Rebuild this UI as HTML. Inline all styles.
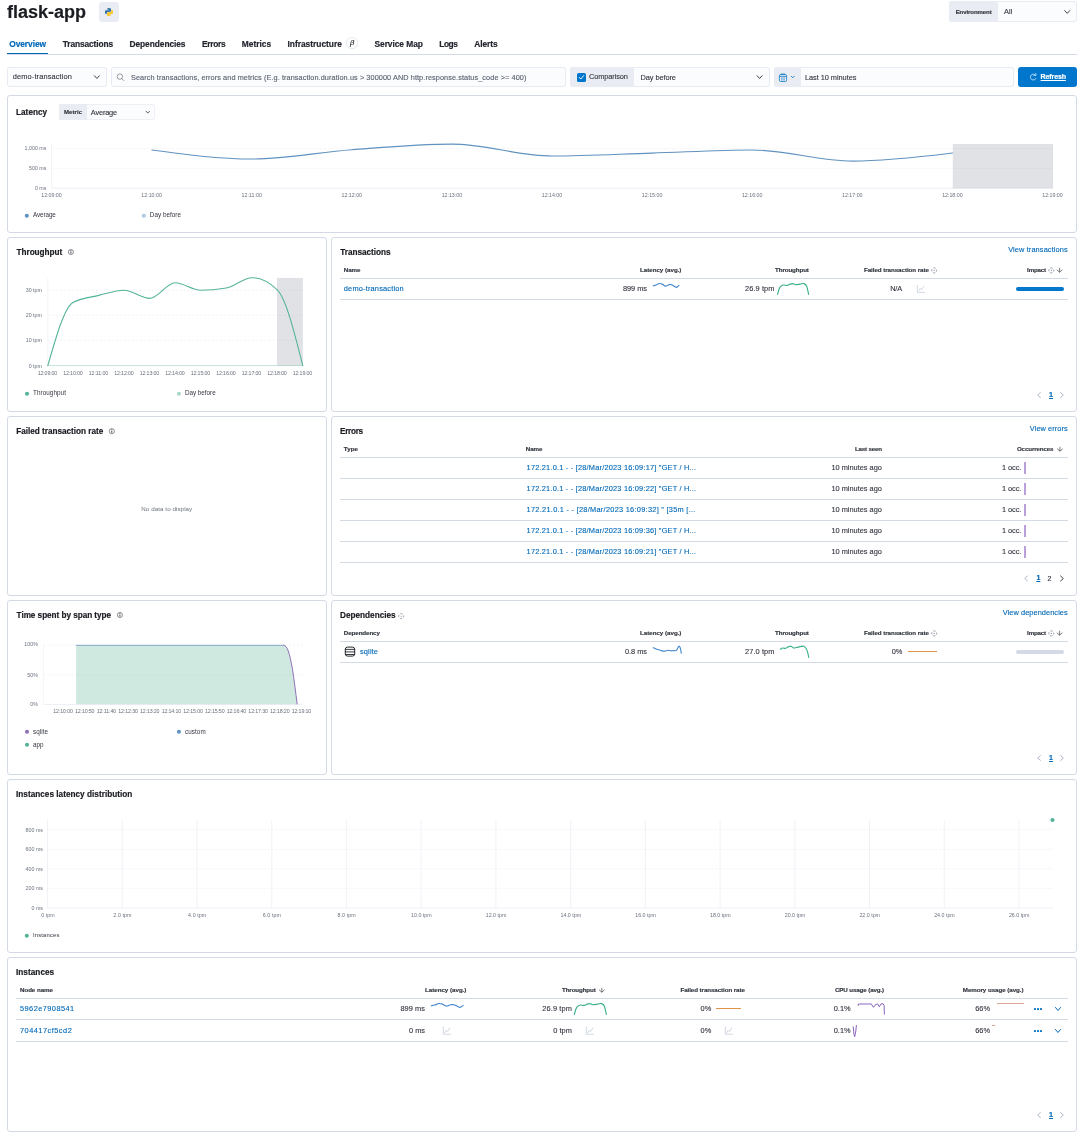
<!DOCTYPE html>
<html lang="en"><head><meta charset="utf-8"><title>flask-app - APM</title><style>
html,body{margin:0;padding:0;background:#fff;}
body{width:1080px;height:1141px;position:relative;overflow:hidden;font-family:"Liberation Sans",sans-serif;}
.t{position:absolute;white-space:nowrap;line-height:1;}
#root{position:absolute;left:0;top:0;width:1080px;height:1141px;will-change:transform;}
.b{position:absolute;}
svg.ov{position:absolute;left:0;top:0;}
</style></head><body>
<div id="root">
<div class="t" style="left:7.00px;top:3.00px;font-size:18.00px;color:#1a1c21;font-weight:700;-webkit-text-stroke:0.18px #1a1c21;letter-spacing:-0.003px;">flask-app</div>
<div class="b" style="left:99.00px;top:2.00px;width:20.00px;height:20.00px;background:#e9edf3;border-radius:3px;"></div>
<div class="b" style="left:949.00px;top:1.20px;width:128.00px;height:20.80px;background:#fbfcfd;border-radius:3px;box-shadow:inset 0 0 0 1px rgba(17,43,134,0.08);"></div>
<div class="b" style="left:949.00px;top:1.20px;width:49.00px;height:20.80px;background:#e9edf3;border-radius:3px 0 0 3px;"></div>
<div class="t" style="left:955.70px;top:9.00px;font-size:6.00px;color:#343741;font-weight:700;-webkit-text-stroke:0.18px #343741;letter-spacing:-0.067px;">Environment</div>
<div class="t" style="left:1004.00px;top:8.00px;font-size:7.40px;color:#343741;letter-spacing:0.138px;-webkit-text-stroke:0.12px #343741;">All</div>
<div class="t" style="left:9.20px;top:40.00px;font-size:8.40px;color:#0069b8;font-weight:700;-webkit-text-stroke:0.18px #0069b8;letter-spacing:-0.051px;">Overview</div>
<div class="t" style="left:62.80px;top:40.00px;font-size:8.40px;color:#23262d;font-weight:700;-webkit-text-stroke:0.18px #23262d;letter-spacing:-0.120px;">Transactions</div>
<div class="t" style="left:129.50px;top:40.00px;font-size:8.40px;color:#23262d;font-weight:700;-webkit-text-stroke:0.18px #23262d;letter-spacing:-0.069px;">Dependencies</div>
<div class="t" style="left:202.00px;top:40.00px;font-size:8.40px;color:#23262d;font-weight:700;-webkit-text-stroke:0.18px #23262d;letter-spacing:-0.282px;">Errors</div>
<div class="t" style="left:241.80px;top:40.00px;font-size:8.40px;color:#23262d;font-weight:700;-webkit-text-stroke:0.18px #23262d;letter-spacing:-0.002px;">Metrics</div>
<div class="t" style="left:287.50px;top:40.00px;font-size:8.40px;color:#23262d;font-weight:700;-webkit-text-stroke:0.18px #23262d;letter-spacing:-0.009px;">Infrastructure</div>
<div class="t" style="left:374.50px;top:40.00px;font-size:8.40px;color:#23262d;font-weight:700;-webkit-text-stroke:0.18px #23262d;letter-spacing:-0.053px;">Service Map</div>
<div class="t" style="left:439.20px;top:40.00px;font-size:8.40px;color:#23262d;font-weight:700;-webkit-text-stroke:0.18px #23262d;letter-spacing:-0.422px;">Logs</div>
<div class="t" style="left:474.20px;top:40.00px;font-size:8.40px;color:#23262d;font-weight:700;-webkit-text-stroke:0.18px #23262d;letter-spacing:-0.042px;">Alerts</div>
<div class="t" style="left:350.01px;top:39.00px;font-size:7.60px;color:#1a1c21;-webkit-text-stroke:0.12px #1a1c21;font-style:italic;">β</div>
<div class="b" style="left:7.00px;top:54.00px;width:1070.00px;height:1.00px;background:#d3dae6;"></div>
<div class="b" style="left:7.00px;top:52.60px;width:41.30px;height:1.40px;background:#0069b8;"></div>
<div class="b" style="left:7.00px;top:67.00px;width:100.00px;height:20.00px;background:#fbfcfd;border-radius:3px;box-shadow:inset 0 0 0 1px rgba(17,43,134,0.08);"></div>
<div class="t" style="left:12.80px;top:73.00px;font-size:7.40px;color:#343741;letter-spacing:0.135px;-webkit-text-stroke:0.12px #343741;">demo-transaction</div>
<div class="b" style="left:111.00px;top:67.00px;width:455.00px;height:20.00px;background:#fbfcfd;border-radius:3px;box-shadow:inset 0 0 0 1px rgba(17,43,134,0.08);"></div>
<div class="t" style="left:131.00px;top:74.00px;font-size:7.30px;color:#5a6270;letter-spacing:0.089px;-webkit-text-stroke:0.12px #5a6270;">Search transactions, errors and metrics (E.g. transaction.duration.us &gt; 300000 AND http.response.status_code &gt;= 400)</div>
<div class="b" style="left:570.00px;top:67.00px;width:200.00px;height:20.00px;background:#fbfcfd;border-radius:3px;box-shadow:inset 0 0 0 1px rgba(17,43,134,0.08);"></div>
<div class="b" style="left:570.00px;top:67.00px;width:64.00px;height:20.00px;background:#e9edf3;border-radius:3px 0 0 3px;"></div>
<div class="b" style="left:577.00px;top:73.00px;width:8.60px;height:8.60px;background:#0077cc;border-radius:1.6px;"></div>
<div class="t" style="left:589.00px;top:73.00px;font-size:7.40px;color:#343741;letter-spacing:-0.099px;-webkit-text-stroke:0.12px #343741;">Comparison</div>
<div class="t" style="left:640.50px;top:74.00px;font-size:7.40px;color:#343741;letter-spacing:-0.078px;-webkit-text-stroke:0.12px #343741;">Day before</div>
<div class="b" style="left:774.00px;top:67.00px;width:240.00px;height:20.00px;background:#fbfcfd;border-radius:3px;box-shadow:inset 0 0 0 1px rgba(17,43,134,0.08);"></div>
<div class="b" style="left:774.00px;top:67.00px;width:27.00px;height:20.00px;background:#e9edf3;border-radius:3px 0 0 3px;"></div>
<div class="t" style="left:805.00px;top:74.00px;font-size:7.40px;color:#343741;letter-spacing:-0.053px;-webkit-text-stroke:0.12px #343741;">Last 10 minutes</div>
<div class="b" style="left:1018.00px;top:67.00px;width:59.00px;height:20.00px;background:#0077cc;border-radius:3px;"></div>
<div class="t" style="left:1040.60px;top:73.00px;font-size:7.00px;color:#fff;font-weight:700;-webkit-text-stroke:0.18px #fff;letter-spacing:-0.111px;text-decoration:underline;">Refresh</div>
<div class="b" style="left:7.00px;top:95.00px;width:1070.00px;height:138.00px;box-sizing:border-box;border:1px solid #d3dae6;border-radius:3px;background:#fff;"></div>
<div class="t" style="left:16.00px;top:109.00px;font-size:8.20px;color:#1a1c21;font-weight:700;-webkit-text-stroke:0.18px #1a1c21;letter-spacing:0.035px;">Latency</div>
<div class="b" style="left:59.00px;top:104.20px;width:95.50px;height:15.60px;background:#fbfcfd;border-radius:2px;box-shadow:inset 0 0 0 1px rgba(17,43,134,0.055);"></div>
<div class="b" style="left:59.00px;top:104.20px;width:28.00px;height:15.60px;background:#e9edf3;border-radius:2px 0 0 2px;"></div>
<div class="t" style="left:64.00px;top:109.00px;font-size:6.00px;color:#343741;font-weight:700;-webkit-text-stroke:0.18px #343741;letter-spacing:0.066px;">Metric</div>
<div class="t" style="left:90.80px;top:109.00px;font-size:7.40px;color:#343741;letter-spacing:-0.171px;-webkit-text-stroke:0.12px #343741;">Average</div>
<div class="t" style="left:24.60px;top:146.00px;font-size:5.30px;color:#69707d;">1,000 ms</div>
<div class="t" style="left:29.02px;top:166.00px;font-size:5.30px;color:#69707d;">500 ms</div>
<div class="t" style="left:34.91px;top:186.00px;font-size:5.30px;color:#69707d;">0 ms</div>
<div class="t" style="left:41.25px;top:193.00px;font-size:5.30px;color:#69707d;letter-spacing:-0.019px;">12:09:00</div>
<div class="t" style="left:141.35px;top:193.00px;font-size:5.30px;color:#69707d;letter-spacing:-0.019px;">12:10:00</div>
<div class="t" style="left:241.45px;top:193.00px;font-size:5.30px;color:#69707d;letter-spacing:0.038px;">12:11:00</div>
<div class="t" style="left:341.55px;top:193.00px;font-size:5.30px;color:#69707d;letter-spacing:-0.019px;">12:12:00</div>
<div class="t" style="left:441.65px;top:193.00px;font-size:5.30px;color:#69707d;letter-spacing:-0.019px;">12:13:00</div>
<div class="t" style="left:541.75px;top:193.00px;font-size:5.30px;color:#69707d;letter-spacing:-0.019px;">12:14:00</div>
<div class="t" style="left:641.85px;top:193.00px;font-size:5.30px;color:#69707d;letter-spacing:-0.019px;">12:15:00</div>
<div class="t" style="left:741.95px;top:193.00px;font-size:5.30px;color:#69707d;letter-spacing:-0.019px;">12:16:00</div>
<div class="t" style="left:842.05px;top:193.00px;font-size:5.30px;color:#69707d;letter-spacing:-0.019px;">12:17:00</div>
<div class="t" style="left:942.15px;top:193.00px;font-size:5.30px;color:#69707d;letter-spacing:-0.019px;">12:18:00</div>
<div class="t" style="left:1042.25px;top:193.00px;font-size:5.30px;color:#69707d;letter-spacing:-0.019px;">12:19:00</div>
<div class="t" style="left:33.00px;top:212.00px;font-size:6.30px;color:#343741;letter-spacing:-0.092px;">Average</div>
<div class="t" style="left:149.80px;top:212.00px;font-size:6.30px;color:#343741;letter-spacing:0.043px;">Day before</div>
<div class="b" style="left:7.00px;top:237.00px;width:320.00px;height:175.00px;box-sizing:border-box;border:1px solid #d3dae6;border-radius:3px;background:#fff;"></div>
<div class="t" style="left:16.50px;top:249.00px;font-size:8.20px;color:#1a1c21;font-weight:700;-webkit-text-stroke:0.18px #1a1c21;letter-spacing:-0.021px;">Throughput</div>
<div class="t" style="left:25.70px;top:288.00px;font-size:5.30px;color:#69707d;">30 tpm</div>
<div class="t" style="left:25.70px;top:313.00px;font-size:5.30px;color:#69707d;">20 tpm</div>
<div class="t" style="left:25.70px;top:338.00px;font-size:5.30px;color:#69707d;">10 tpm</div>
<div class="t" style="left:28.64px;top:364.00px;font-size:5.30px;color:#69707d;">0 tpm</div>
<div class="t" style="left:37.70px;top:371.00px;font-size:5.30px;color:#69707d;letter-spacing:-0.147px;">12:09:00</div>
<div class="t" style="left:63.20px;top:371.00px;font-size:5.30px;color:#69707d;letter-spacing:-0.147px;">12:10:00</div>
<div class="t" style="left:88.70px;top:371.00px;font-size:5.30px;color:#69707d;letter-spacing:-0.091px;">12:11:00</div>
<div class="t" style="left:114.20px;top:371.00px;font-size:5.30px;color:#69707d;letter-spacing:-0.147px;">12:12:00</div>
<div class="t" style="left:139.70px;top:371.00px;font-size:5.30px;color:#69707d;letter-spacing:-0.147px;">12:13:00</div>
<div class="t" style="left:165.20px;top:371.00px;font-size:5.30px;color:#69707d;letter-spacing:-0.147px;">12:14:00</div>
<div class="t" style="left:190.70px;top:371.00px;font-size:5.30px;color:#69707d;letter-spacing:-0.147px;">12:15:00</div>
<div class="t" style="left:216.20px;top:371.00px;font-size:5.30px;color:#69707d;letter-spacing:-0.147px;">12:16:00</div>
<div class="t" style="left:241.70px;top:371.00px;font-size:5.30px;color:#69707d;letter-spacing:-0.147px;">12:17:00</div>
<div class="t" style="left:267.20px;top:371.00px;font-size:5.30px;color:#69707d;letter-spacing:-0.147px;">12:18:00</div>
<div class="t" style="left:292.70px;top:371.00px;font-size:5.30px;color:#69707d;letter-spacing:-0.147px;">12:19:00</div>
<div class="t" style="left:33.10px;top:390.00px;font-size:6.30px;color:#343741;letter-spacing:0.064px;">Throughput</div>
<div class="t" style="left:184.90px;top:390.00px;font-size:6.30px;color:#343741;letter-spacing:-0.002px;">Day before</div>
<div class="b" style="left:7.00px;top:416.00px;width:320.00px;height:180.00px;box-sizing:border-box;border:1px solid #d3dae6;border-radius:3px;background:#fff;"></div>
<div class="t" style="left:16.20px;top:428.00px;font-size:8.20px;color:#1a1c21;font-weight:700;-webkit-text-stroke:0.18px #1a1c21;letter-spacing:-0.013px;">Failed transaction rate</div>
<div class="t" style="left:141.30px;top:506.00px;font-size:6.20px;color:#69707d;letter-spacing:0.081px;">No data to display</div>
<div class="b" style="left:7.00px;top:600.00px;width:320.00px;height:175.00px;box-sizing:border-box;border:1px solid #d3dae6;border-radius:3px;background:#fff;"></div>
<div class="t" style="left:16.60px;top:612.00px;font-size:8.20px;color:#1a1c21;font-weight:700;-webkit-text-stroke:0.18px #1a1c21;letter-spacing:-0.043px;">Time spent by span type</div>
<div class="t" style="left:24.34px;top:642.00px;font-size:5.30px;color:#69707d;">100%</div>
<div class="t" style="left:27.29px;top:673.00px;font-size:5.30px;color:#69707d;">50%</div>
<div class="t" style="left:30.24px;top:702.00px;font-size:5.30px;color:#69707d;">0%</div>
<div class="t" style="left:53.30px;top:709.00px;font-size:5.30px;color:#69707d;letter-spacing:-0.147px;">12:10:00</div>
<div class="t" style="left:74.97px;top:709.00px;font-size:5.30px;color:#69707d;letter-spacing:-0.147px;">12:10:50</div>
<div class="t" style="left:96.64px;top:709.00px;font-size:5.30px;color:#69707d;letter-spacing:-0.091px;">12:11:40</div>
<div class="t" style="left:118.31px;top:709.00px;font-size:5.30px;color:#69707d;letter-spacing:-0.147px;">12:12:30</div>
<div class="t" style="left:139.98px;top:709.00px;font-size:5.30px;color:#69707d;letter-spacing:-0.147px;">12:13:20</div>
<div class="t" style="left:161.65px;top:709.00px;font-size:5.30px;color:#69707d;letter-spacing:-0.147px;">12:14:10</div>
<div class="t" style="left:183.32px;top:709.00px;font-size:5.30px;color:#69707d;letter-spacing:-0.147px;">12:15:00</div>
<div class="t" style="left:204.99px;top:709.00px;font-size:5.30px;color:#69707d;letter-spacing:-0.147px;">12:15:50</div>
<div class="t" style="left:226.66px;top:709.00px;font-size:5.30px;color:#69707d;letter-spacing:-0.147px;">12:16:40</div>
<div class="t" style="left:248.33px;top:709.00px;font-size:5.30px;color:#69707d;letter-spacing:-0.147px;">12:17:30</div>
<div class="t" style="left:270.00px;top:709.00px;font-size:5.30px;color:#69707d;letter-spacing:-0.147px;">12:18:20</div>
<div class="t" style="left:291.67px;top:709.00px;font-size:5.30px;color:#69707d;letter-spacing:-0.147px;">12:19:10</div>
<div class="t" style="left:33.10px;top:729.00px;font-size:6.30px;color:#343741;letter-spacing:0.059px;">sqlite</div>
<div class="t" style="left:184.90px;top:729.00px;font-size:6.30px;color:#343741;letter-spacing:0.099px;">custom</div>
<div class="t" style="left:33.10px;top:742.00px;font-size:6.30px;color:#343741;letter-spacing:-0.106px;">app</div>
<div class="b" style="left:331.00px;top:237.00px;width:746.00px;height:175.00px;box-sizing:border-box;border:1px solid #d3dae6;border-radius:3px;background:#fff;"></div>
<div class="t" style="left:340.20px;top:249.00px;font-size:8.20px;color:#1a1c21;font-weight:700;-webkit-text-stroke:0.18px #1a1c21;letter-spacing:-0.008px;">Transactions</div>
<div class="t" style="left:1008.20px;top:246.00px;font-size:7.40px;color:#0069b8;letter-spacing:0.109px;-webkit-text-stroke:0.12px #0069b8;">View transactions</div>
<div class="t" style="left:343.80px;top:267.00px;font-size:6.20px;color:#343741;font-weight:700;-webkit-text-stroke:0.18px #343741;letter-spacing:-0.096px;">Name</div>
<div class="t" style="left:640.00px;top:267.00px;font-size:6.20px;color:#343741;font-weight:700;-webkit-text-stroke:0.18px #343741;letter-spacing:-0.015px;">Latency (avg.)</div>
<div class="t" style="left:775.00px;top:267.00px;font-size:6.20px;color:#343741;font-weight:700;-webkit-text-stroke:0.18px #343741;letter-spacing:-0.086px;">Throughput</div>
<div class="t" style="left:864.00px;top:267.00px;font-size:6.20px;color:#343741;font-weight:700;-webkit-text-stroke:0.18px #343741;letter-spacing:-0.052px;">Failed transaction rate</div>
<div class="t" style="left:1027.10px;top:267.00px;font-size:6.20px;color:#343741;font-weight:700;-webkit-text-stroke:0.18px #343741;letter-spacing:-0.177px;">Impact</div>
<div class="b" style="left:340.00px;top:278.00px;width:728.00px;height:1.00px;background:#d3dae6;"></div>
<div class="b" style="left:340.00px;top:299.00px;width:728.00px;height:1.00px;background:#d3dae6;"></div>
<div class="t" style="left:343.80px;top:285.00px;font-size:7.40px;color:#0069b8;letter-spacing:0.188px;-webkit-text-stroke:0.12px #0069b8;">demo-transaction</div>
<div class="t" style="left:623.00px;top:285.00px;font-size:7.40px;color:#343741;letter-spacing:-0.053px;-webkit-text-stroke:0.12px #343741;">899 ms</div>
<div class="t" style="left:745.00px;top:285.00px;font-size:7.40px;color:#343741;letter-spacing:0.101px;-webkit-text-stroke:0.12px #343741;">26.9 tpm</div>
<div class="t" style="left:890.20px;top:285.00px;font-size:7.40px;color:#343741;letter-spacing:-0.168px;-webkit-text-stroke:0.12px #343741;">N/A</div>
<div class="b" style="left:1016.20px;top:286.80px;width:47.80px;height:4.00px;background:#0077cc;border-radius:2px;"></div>
<div class="t" style="left:1049.10px;top:391.00px;font-size:7.00px;color:#0069b8;font-weight:700;-webkit-text-stroke:0.18px #0069b8;text-decoration:underline;">1</div>
<div class="b" style="left:331.00px;top:416.00px;width:746.00px;height:180.00px;box-sizing:border-box;border:1px solid #d3dae6;border-radius:3px;background:#fff;"></div>
<div class="t" style="left:340.00px;top:428.00px;font-size:8.20px;color:#1a1c21;font-weight:700;-webkit-text-stroke:0.18px #1a1c21;letter-spacing:-0.282px;">Errors</div>
<div class="t" style="left:1029.80px;top:425.00px;font-size:7.40px;color:#0069b8;letter-spacing:0.071px;-webkit-text-stroke:0.12px #0069b8;">View errors</div>
<div class="t" style="left:343.80px;top:446.00px;font-size:6.20px;color:#343741;font-weight:700;-webkit-text-stroke:0.18px #343741;letter-spacing:0.063px;">Type</div>
<div class="t" style="left:525.80px;top:446.00px;font-size:6.20px;color:#343741;font-weight:700;-webkit-text-stroke:0.18px #343741;letter-spacing:-0.096px;">Name</div>
<div class="t" style="left:855.00px;top:446.00px;font-size:6.20px;color:#343741;font-weight:700;-webkit-text-stroke:0.18px #343741;letter-spacing:-0.200px;">Last seen</div>
<div class="t" style="left:1016.90px;top:446.00px;font-size:6.20px;color:#343741;font-weight:700;-webkit-text-stroke:0.18px #343741;letter-spacing:-0.121px;">Occurrences</div>
<div class="b" style="left:340.00px;top:457.00px;width:728.00px;height:1.00px;background:#d3dae6;"></div>
<div class="b" style="left:340.00px;top:478.00px;width:728.00px;height:1.00px;background:#d3dae6;"></div>
<div class="b" style="left:340.00px;top:499.00px;width:728.00px;height:1.00px;background:#d3dae6;"></div>
<div class="b" style="left:340.00px;top:520.00px;width:728.00px;height:1.00px;background:#d3dae6;"></div>
<div class="b" style="left:340.00px;top:541.00px;width:728.00px;height:1.00px;background:#d3dae6;"></div>
<div class="b" style="left:340.00px;top:562.00px;width:728.00px;height:1.00px;background:#d3dae6;"></div>
<div class="t" style="left:526.60px;top:464.00px;font-size:7.40px;color:#0069b8;letter-spacing:0.203px;-webkit-text-stroke:0.12px #0069b8;">172.21.0.1 - - [28/Mar/2023 16:09:17] "GET / H...</div>
<div class="t" style="left:831.40px;top:464.00px;font-size:7.40px;color:#343741;-webkit-text-stroke:0.12px #343741;">10 minutes ago</div>
<div class="t" style="left:1002.00px;top:464.00px;font-size:7.40px;color:#343741;letter-spacing:-0.069px;-webkit-text-stroke:0.12px #343741;">1 occ.</div>
<div class="b" style="left:1024.00px;top:462.00px;width:2.00px;height:12.00px;background:#b9a0d9;"></div>
<div class="t" style="left:526.60px;top:485.00px;font-size:7.40px;color:#0069b8;letter-spacing:0.203px;-webkit-text-stroke:0.12px #0069b8;">172.21.0.1 - - [28/Mar/2023 16:09:22] "GET / H...</div>
<div class="t" style="left:831.40px;top:485.00px;font-size:7.40px;color:#343741;-webkit-text-stroke:0.12px #343741;">10 minutes ago</div>
<div class="t" style="left:1002.00px;top:485.00px;font-size:7.40px;color:#343741;letter-spacing:-0.069px;-webkit-text-stroke:0.12px #343741;">1 occ.</div>
<div class="b" style="left:1024.00px;top:483.00px;width:2.00px;height:12.00px;background:#b9a0d9;"></div>
<div class="t" style="left:526.60px;top:506.00px;font-size:7.40px;color:#0069b8;letter-spacing:0.269px;-webkit-text-stroke:0.12px #0069b8;">172.21.0.1 - - [28/Mar/2023 16:09:32] " [35m [...</div>
<div class="t" style="left:831.40px;top:506.00px;font-size:7.40px;color:#343741;-webkit-text-stroke:0.12px #343741;">10 minutes ago</div>
<div class="t" style="left:1002.00px;top:506.00px;font-size:7.40px;color:#343741;letter-spacing:-0.069px;-webkit-text-stroke:0.12px #343741;">1 occ.</div>
<div class="b" style="left:1024.00px;top:504.00px;width:2.00px;height:12.00px;background:#b9a0d9;"></div>
<div class="t" style="left:526.60px;top:527.00px;font-size:7.40px;color:#0069b8;letter-spacing:0.203px;-webkit-text-stroke:0.12px #0069b8;">172.21.0.1 - - [28/Mar/2023 16:09:36] "GET / H...</div>
<div class="t" style="left:831.40px;top:527.00px;font-size:7.40px;color:#343741;-webkit-text-stroke:0.12px #343741;">10 minutes ago</div>
<div class="t" style="left:1002.00px;top:527.00px;font-size:7.40px;color:#343741;letter-spacing:-0.069px;-webkit-text-stroke:0.12px #343741;">1 occ.</div>
<div class="b" style="left:1024.00px;top:525.00px;width:2.00px;height:12.00px;background:#b9a0d9;"></div>
<div class="t" style="left:526.60px;top:548.00px;font-size:7.40px;color:#0069b8;letter-spacing:0.203px;-webkit-text-stroke:0.12px #0069b8;">172.21.0.1 - - [28/Mar/2023 16:09:21] "GET / H...</div>
<div class="t" style="left:831.40px;top:548.00px;font-size:7.40px;color:#343741;-webkit-text-stroke:0.12px #343741;">10 minutes ago</div>
<div class="t" style="left:1002.00px;top:548.00px;font-size:7.40px;color:#343741;letter-spacing:-0.069px;-webkit-text-stroke:0.12px #343741;">1 occ.</div>
<div class="b" style="left:1024.00px;top:546.00px;width:2.00px;height:12.00px;background:#b9a0d9;"></div>
<div class="t" style="left:1036.40px;top:574.00px;font-size:7.00px;color:#0069b8;font-weight:700;-webkit-text-stroke:0.18px #0069b8;text-decoration:underline;">1</div>
<div class="t" style="left:1047.60px;top:575.00px;font-size:7.00px;color:#343741;-webkit-text-stroke:0.12px #343741;">2</div>
<div class="b" style="left:331.00px;top:600.00px;width:746.00px;height:175.00px;box-sizing:border-box;border:1px solid #d3dae6;border-radius:3px;background:#fff;"></div>
<div class="t" style="left:340.00px;top:612.00px;font-size:8.20px;color:#1a1c21;font-weight:700;-webkit-text-stroke:0.18px #1a1c21;letter-spacing:0.009px;">Dependencies</div>
<div class="t" style="left:1002.70px;top:609.00px;font-size:7.40px;color:#0069b8;letter-spacing:0.066px;-webkit-text-stroke:0.12px #0069b8;">View dependencies</div>
<div class="t" style="left:343.80px;top:630.00px;font-size:6.20px;color:#343741;font-weight:700;-webkit-text-stroke:0.18px #343741;letter-spacing:-0.074px;">Dependency</div>
<div class="t" style="left:640.00px;top:630.00px;font-size:6.20px;color:#343741;font-weight:700;-webkit-text-stroke:0.18px #343741;letter-spacing:-0.015px;">Latency (avg.)</div>
<div class="t" style="left:775.00px;top:630.00px;font-size:6.20px;color:#343741;font-weight:700;-webkit-text-stroke:0.18px #343741;letter-spacing:-0.086px;">Throughput</div>
<div class="t" style="left:864.00px;top:630.00px;font-size:6.20px;color:#343741;font-weight:700;-webkit-text-stroke:0.18px #343741;letter-spacing:-0.052px;">Failed transaction rate</div>
<div class="t" style="left:1027.10px;top:630.00px;font-size:6.20px;color:#343741;font-weight:700;-webkit-text-stroke:0.18px #343741;letter-spacing:-0.177px;">Impact</div>
<div class="b" style="left:340.00px;top:641.00px;width:728.00px;height:1.00px;background:#d3dae6;"></div>
<div class="b" style="left:340.00px;top:662.00px;width:728.00px;height:1.00px;background:#d3dae6;"></div>
<div class="t" style="left:360.00px;top:648.00px;font-size:7.40px;color:#0069b8;letter-spacing:0.145px;-webkit-text-stroke:0.12px #0069b8;">sqlite</div>
<div class="t" style="left:625.00px;top:648.00px;font-size:7.40px;color:#343741;letter-spacing:-0.041px;-webkit-text-stroke:0.12px #343741;">0.8 ms</div>
<div class="t" style="left:745.00px;top:648.00px;font-size:7.40px;color:#343741;letter-spacing:0.101px;-webkit-text-stroke:0.12px #343741;">27.0 tpm</div>
<div class="t" style="left:891.70px;top:648.00px;font-size:7.40px;color:#343741;-webkit-text-stroke:0.12px #343741;">0%</div>
<div class="b" style="left:908.40px;top:651.10px;width:28.50px;height:0.90px;background:#e0934a;"></div>
<div class="b" style="left:1016.20px;top:649.80px;width:47.80px;height:4.00px;background:#d3dae6;border-radius:2px;"></div>
<div class="t" style="left:1049.10px;top:754.00px;font-size:7.00px;color:#0069b8;font-weight:700;-webkit-text-stroke:0.18px #0069b8;text-decoration:underline;">1</div>
<div class="b" style="left:7.00px;top:779.00px;width:1070.00px;height:174.00px;box-sizing:border-box;border:1px solid #d3dae6;border-radius:3px;background:#fff;"></div>
<div class="t" style="left:16.00px;top:791.00px;font-size:8.20px;color:#1a1c21;font-weight:700;-webkit-text-stroke:0.18px #1a1c21;letter-spacing:0.026px;">Instances latency distribution</div>
<div class="t" style="left:25.62px;top:828.00px;font-size:5.30px;color:#69707d;">800 ms</div>
<div class="t" style="left:25.62px;top:847.00px;font-size:5.30px;color:#69707d;">600 ms</div>
<div class="t" style="left:25.62px;top:867.00px;font-size:5.30px;color:#69707d;">400 ms</div>
<div class="t" style="left:25.62px;top:886.00px;font-size:5.30px;color:#69707d;">200 ms</div>
<div class="t" style="left:31.51px;top:906.00px;font-size:5.30px;color:#69707d;">0 ms</div>
<div class="t" style="left:41.25px;top:913.00px;font-size:5.30px;color:#69707d;letter-spacing:0.061px;">0 tpm</div>
<div class="t" style="left:113.33px;top:913.00px;font-size:5.30px;color:#69707d;letter-spacing:0.087px;">2.0 tpm</div>
<div class="t" style="left:188.06px;top:913.00px;font-size:5.30px;color:#69707d;letter-spacing:0.087px;">4.0 tpm</div>
<div class="t" style="left:262.79px;top:913.00px;font-size:5.30px;color:#69707d;letter-spacing:0.087px;">6.0 tpm</div>
<div class="t" style="left:337.52px;top:913.00px;font-size:5.30px;color:#69707d;letter-spacing:0.087px;">8.0 tpm</div>
<div class="t" style="left:411.05px;top:913.00px;font-size:5.30px;color:#69707d;letter-spacing:-0.003px;">10.0 tpm</div>
<div class="t" style="left:485.78px;top:913.00px;font-size:5.30px;color:#69707d;letter-spacing:-0.003px;">12.0 tpm</div>
<div class="t" style="left:560.51px;top:913.00px;font-size:5.30px;color:#69707d;letter-spacing:-0.003px;">14.0 tpm</div>
<div class="t" style="left:635.24px;top:913.00px;font-size:5.30px;color:#69707d;letter-spacing:-0.003px;">16.0 tpm</div>
<div class="t" style="left:709.97px;top:913.00px;font-size:5.30px;color:#69707d;letter-spacing:-0.003px;">18.0 tpm</div>
<div class="t" style="left:784.70px;top:913.00px;font-size:5.30px;color:#69707d;letter-spacing:-0.003px;">20.0 tpm</div>
<div class="t" style="left:859.43px;top:913.00px;font-size:5.30px;color:#69707d;letter-spacing:-0.003px;">22.0 tpm</div>
<div class="t" style="left:934.16px;top:913.00px;font-size:5.30px;color:#69707d;letter-spacing:-0.003px;">24.0 tpm</div>
<div class="t" style="left:1008.89px;top:913.00px;font-size:5.30px;color:#69707d;letter-spacing:-0.003px;">26.0 tpm</div>
<div class="t" style="left:33.00px;top:933.00px;font-size:5.90px;color:#343741;letter-spacing:0.156px;">Instances</div>
<div class="b" style="left:7.00px;top:957.00px;width:1070.00px;height:175.00px;box-sizing:border-box;border:1px solid #d3dae6;border-radius:3px;background:#fff;"></div>
<div class="t" style="left:16.00px;top:969.00px;font-size:8.20px;color:#1a1c21;font-weight:700;-webkit-text-stroke:0.18px #1a1c21;letter-spacing:0.046px;">Instances</div>
<div class="t" style="left:20.00px;top:987.00px;font-size:6.20px;color:#343741;font-weight:700;-webkit-text-stroke:0.18px #343741;letter-spacing:-0.052px;">Node name</div>
<div class="t" style="left:425.00px;top:987.00px;font-size:6.20px;color:#343741;font-weight:700;-webkit-text-stroke:0.18px #343741;letter-spacing:-0.015px;">Latency (avg.)</div>
<div class="t" style="left:562.00px;top:987.00px;font-size:6.20px;color:#343741;font-weight:700;-webkit-text-stroke:0.18px #343741;letter-spacing:-0.108px;">Throughput</div>
<div class="t" style="left:680.50px;top:987.00px;font-size:6.20px;color:#343741;font-weight:700;-webkit-text-stroke:0.18px #343741;letter-spacing:-0.075px;">Failed transaction rate</div>
<div class="t" style="left:835.00px;top:987.00px;font-size:6.20px;color:#343741;font-weight:700;-webkit-text-stroke:0.18px #343741;letter-spacing:-0.119px;">CPU usage (avg.)</div>
<div class="t" style="left:962.80px;top:987.00px;font-size:6.20px;color:#343741;font-weight:700;-webkit-text-stroke:0.18px #343741;letter-spacing:-0.043px;">Memory usage (avg.)</div>
<div class="b" style="left:16.00px;top:998.00px;width:1052.00px;height:1.00px;background:#d3dae6;"></div>
<div class="b" style="left:16.00px;top:1019.00px;width:1052.00px;height:1.00px;background:#d3dae6;"></div>
<div class="b" style="left:16.00px;top:1041.00px;width:1052.00px;height:1.00px;background:#d3dae6;"></div>
<div class="t" style="left:20.00px;top:1005.00px;font-size:7.40px;color:#0069b8;letter-spacing:0.438px;-webkit-text-stroke:0.12px #0069b8;">5962e7908541</div>
<div class="t" style="left:20.00px;top:1027.00px;font-size:7.40px;color:#0069b8;letter-spacing:0.482px;-webkit-text-stroke:0.12px #0069b8;">704417cf5cd2</div>
<div class="t" style="left:400.40px;top:1005.00px;font-size:7.40px;color:#343741;letter-spacing:0.067px;-webkit-text-stroke:0.12px #343741;">899 ms</div>
<div class="t" style="left:409.00px;top:1027.00px;font-size:7.40px;color:#343741;letter-spacing:-0.012px;-webkit-text-stroke:0.12px #343741;">0 ms</div>
<div class="t" style="left:542.20px;top:1005.00px;font-size:7.40px;color:#343741;letter-spacing:0.144px;-webkit-text-stroke:0.12px #343741;">26.9 tpm</div>
<div class="t" style="left:553.20px;top:1027.00px;font-size:7.40px;color:#343741;letter-spacing:0.073px;-webkit-text-stroke:0.12px #343741;">0 tpm</div>
<div class="t" style="left:700.60px;top:1005.00px;font-size:7.40px;color:#343741;-webkit-text-stroke:0.12px #343741;">0%</div>
<div class="t" style="left:700.60px;top:1027.00px;font-size:7.40px;color:#343741;-webkit-text-stroke:0.12px #343741;">0%</div>
<div class="b" style="left:716.20px;top:1008.10px;width:25.30px;height:0.90px;background:#e0934a;"></div>
<div class="t" style="left:833.73px;top:1005.00px;font-size:7.40px;color:#343741;-webkit-text-stroke:0.12px #343741;">0.1%</div>
<div class="t" style="left:833.73px;top:1027.00px;font-size:7.40px;color:#343741;-webkit-text-stroke:0.12px #343741;">0.1%</div>
<div class="t" style="left:975.19px;top:1005.00px;font-size:7.40px;color:#343741;-webkit-text-stroke:0.12px #343741;">66%</div>
<div class="t" style="left:975.19px;top:1027.00px;font-size:7.40px;color:#343741;-webkit-text-stroke:0.12px #343741;">66%</div>
<div class="b" style="left:997.20px;top:1002.90px;width:26.60px;height:0.80px;background:#dda59a;"></div>
<div class="b" style="left:992.20px;top:1025.10px;width:2.80px;height:0.80px;background:#dda59a;"></div>
<div class="b" style="left:1034.30px;top:1008.00px;width:1.70px;height:1.70px;background:#0071c2;border-radius:0.4px;"></div>
<div class="b" style="left:1037.20px;top:1008.00px;width:1.70px;height:1.70px;background:#0071c2;border-radius:0.4px;"></div>
<div class="b" style="left:1040.10px;top:1008.00px;width:1.70px;height:1.70px;background:#0071c2;border-radius:0.4px;"></div>
<div class="b" style="left:1034.30px;top:1030.00px;width:1.70px;height:1.70px;background:#0071c2;border-radius:0.4px;"></div>
<div class="b" style="left:1037.20px;top:1030.00px;width:1.70px;height:1.70px;background:#0071c2;border-radius:0.4px;"></div>
<div class="b" style="left:1040.10px;top:1030.00px;width:1.70px;height:1.70px;background:#0071c2;border-radius:0.4px;"></div>
<div class="t" style="left:1049.10px;top:1111.00px;font-size:7.00px;color:#0069b8;font-weight:700;-webkit-text-stroke:0.18px #0069b8;text-decoration:underline;">1</div>
</div>
<svg class="ov" width="1080" height="1141" viewBox="0 0 1080 1141">
<g transform="translate(104.9,8.0) scale(0.51)"><path d="M7.9 0C3.9 0 4.1 1.8 4.1 1.8v1.8h3.9v.6H2.6S0 3.9 0 8c0 4 2.3 3.9 2.3 3.9h1.400v-1.900s-.1-2.300 2.200-2.300h3.900s2.200 0 2.200-2.100V2.200S12.300 0 7.900 0zM5.800 1.200a.7.7 0 110 1.400.7.7 0 010-1.400z" fill="#3572a5"/><path d="M8.100 16c4 0 3.800-1.800 3.800-1.800v-1.800H8v-.6h5.400S16 12.100 16 8c0-4-2.300-3.900-2.300-3.900h-1.400V6s.1 2.300-2.200 2.300H6.200S4 8.300 4 10.400v3.400S3.700 16 8.100 16zm2.100-1.200a.7.7 0 110-1.400.7.7 0 010 1.400z" fill="#fbc62e"/></g>
<path d="M1064.70,10.65 L1067.20,13.35 L1069.70,10.65" fill="none" stroke="#343741" stroke-width="0.95" stroke-linecap="round" stroke-linejoin="round" />
<circle cx="352.0" cy="43.1" r="5.6" fill="none" stroke="#d3dae6" stroke-width="0.6"/>
<path d="M94.40,75.75 L96.90,78.45 L99.40,75.75" fill="none" stroke="#343741" stroke-width="0.95" stroke-linecap="round" stroke-linejoin="round" />
<circle cx="119.9" cy="76.6" r="2.7" fill="none" stroke="#4a4f5c" stroke-width="0.55"/>
<path d="M121.9,78.7 L123.8,80.6" fill="none" stroke="#4a4f5c" stroke-width="0.55" stroke-linecap="round" stroke-linejoin="round" />
<path d="M579.2,77.4 L580.8,79 L583.6,75.6" fill="none" stroke="#fff" stroke-width="0.9" stroke-linecap="round" stroke-linejoin="round" />
<path d="M757.10,75.75 L759.60,78.45 L762.10,75.75" fill="none" stroke="#343741" stroke-width="0.95" stroke-linecap="round" stroke-linejoin="round" />
<rect x="779.4" y="74.6" width="7.2" height="6.9" rx="1.3" fill="none" stroke="#0071c2" stroke-width="0.75"/>
<path d="M779.6,76.4 L786.4,76.4" fill="none" stroke="#0071c2" stroke-width="0.7" stroke-linecap="round" stroke-linejoin="round" />
<path d="M781.0,74.1 L785.0,74.1" fill="none" stroke="#0071c2" stroke-width="0.8" stroke-linecap="round" stroke-linejoin="round" />
<path d="M781.7,77.6 L781.7,80.2 M783,77.6 L783,80.2 M784.3,77.6 L784.3,80.2" fill="none" stroke="#5a9fd6" stroke-width="0.8" stroke-linecap="round" stroke-linejoin="round" />
<path d="M791.30,76.25 L792.80,77.75 L794.30,76.25" fill="none" stroke="#0071c2" stroke-width="0.8" stroke-linecap="round" stroke-linejoin="round" />
<path d="M1035.6,75.3 A2.9,2.9 0 1 0 1036,78.2" fill="none" stroke="#fff" stroke-width="0.7"/>
<path d="M1035.9,73.4 L1035.9,75.5 L1033.8,75.5" fill="none" stroke="#fff" stroke-width="0.6" stroke-linecap="round" stroke-linejoin="round" />
<path d="M146.10,111.30 L147.80,113.10 L149.50,111.30" fill="none" stroke="#343741" stroke-width="0.8" stroke-linecap="round" stroke-linejoin="round" />
<line x1="51.50" y1="148.60" x2="1053.00" y2="148.60" stroke="#e7eaf1" stroke-width="0.6" stroke-dasharray="2 2"/>
<line x1="51.50" y1="168.60" x2="1053.00" y2="168.60" stroke="#e7eaf1" stroke-width="0.6" stroke-dasharray="2 2"/>
<line x1="51.50" y1="143.80" x2="51.50" y2="188.30" stroke="#edf0f5" stroke-width="0.7"/>
<line x1="51.50" y1="188.30" x2="1053.00" y2="188.30" stroke="#e4e8f0" stroke-width="0.7"/>
<path d="M151.80,150.00C185.20,154.50 218.60,159.00 252.00,159.00C285.33,159.00 318.67,152.18 352.00,149.70C385.33,147.22 418.67,144.10 452.00,144.10C485.33,144.10 518.67,156.00 552.00,156.00C585.33,156.00 618.67,154.10 652.00,153.10C685.33,152.10 718.67,150.00 752.00,150.00C785.50,150.00 819.00,161.10 852.50,161.10C885.87,161.10 919.23,157.05 952.60,153.00" fill="none" stroke="#6092c0" stroke-width="1.1" stroke-linecap="round" stroke-linejoin="round" />
<rect x="952.80" y="144.00" width="100.20" height="44.20" fill="rgba(105,112,125,0.2)"/>
<circle cx="26.80" cy="215.70" r="2.05" fill="#6092c0"/>
<circle cx="143.80" cy="215.70" r="2.05" fill="#b0c9e0"/>
<circle cx="70.90" cy="252.00" r="2.55" fill="none" stroke="#343741" stroke-width="0.55"/>
<rect x="70.45" y="251.40" width="0.9" height="2.2" fill="#343741"/>
<rect x="70.45" y="250.10" width="0.9" height="0.8" fill="#343741"/>
<line x1="47.80" y1="290.20" x2="302.90" y2="290.20" stroke="#e7eaf1" stroke-width="0.6" stroke-dasharray="2 2"/>
<line x1="47.80" y1="315.30" x2="302.90" y2="315.30" stroke="#e7eaf1" stroke-width="0.6" stroke-dasharray="2 2"/>
<line x1="47.80" y1="340.30" x2="302.90" y2="340.30" stroke="#e7eaf1" stroke-width="0.6" stroke-dasharray="2 2"/>
<line x1="47.80" y1="277.90" x2="47.80" y2="365.60" stroke="#edf0f5" stroke-width="0.7"/>
<line x1="47.80" y1="365.60" x2="302.90" y2="365.60" stroke="#b5dccf" stroke-width="0.8"/>
<rect x="277.00" y="277.90" width="25.90" height="87.70" fill="rgba(105,112,125,0.2)"/>
<path d="M47.80,365.60C56.20,336.28 64.60,306.96 73.00,302.40C81.60,297.73 90.20,297.45 98.80,295.40C107.20,293.40 115.60,290.20 124.00,290.20C132.53,290.20 141.07,298.40 149.60,298.40C158.13,298.40 166.67,282.80 175.20,282.80C183.67,282.80 192.13,290.30 200.60,290.30C209.13,290.30 217.67,289.53 226.20,288.00C234.80,286.45 243.40,277.70 252.00,277.70C260.43,277.70 268.87,281.73 277.30,289.80C285.80,297.93 294.30,331.77 302.80,365.60" fill="none" stroke="#54b399" stroke-width="1.1" stroke-linecap="round" stroke-linejoin="round" />
<circle cx="27.00" cy="393.70" r="2.05" fill="#54b399"/>
<circle cx="178.90" cy="393.70" r="2.05" fill="#aad9cc"/>
<circle cx="111.80" cy="431.20" r="2.55" fill="none" stroke="#343741" stroke-width="0.55"/>
<rect x="111.35" y="430.60" width="0.9" height="2.2" fill="#343741"/>
<rect x="111.35" y="429.30" width="0.9" height="0.8" fill="#343741"/>
<circle cx="119.90" cy="615.00" r="2.55" fill="none" stroke="#343741" stroke-width="0.55"/>
<rect x="119.45" y="614.40" width="0.9" height="2.2" fill="#343741"/>
<rect x="119.45" y="613.10" width="0.9" height="0.8" fill="#343741"/>
<path d="M76.2,704.4 L76.2,645.2 L283.6,645.2 C287.6,645.2 289.4,653 292.4,668.6 C294.2,680 295.6,692 297.2,704.4 Z" fill="#cfe8e0" stroke="none"/>
<line x1="43.40" y1="645.00" x2="76.20" y2="645.00" stroke="#e7eaf1" stroke-width="0.6" stroke-dasharray="2 2"/>
<line x1="285.00" y1="645.00" x2="302.70" y2="645.00" stroke="#e7eaf1" stroke-width="0.6" stroke-dasharray="2 2"/>
<line x1="43.40" y1="674.80" x2="76.20" y2="674.80" stroke="#e7eaf1" stroke-width="0.6" stroke-dasharray="2 2"/>
<line x1="76.20" y1="674.80" x2="293.40" y2="674.80" stroke="#c4dcd6" stroke-width="0.6" stroke-dasharray="2 2"/>
<line x1="293.40" y1="674.80" x2="302.70" y2="674.80" stroke="#e7eaf1" stroke-width="0.6" stroke-dasharray="2 2"/>
<path d="M76.2,645.3 L284,645.3" fill="none" stroke="#7b9bc4" stroke-width="0.9" stroke-linecap="round" stroke-linejoin="round" />
<path d="M283.6,645.3 C287.6,645.3 289.4,653 292.4,668.6 C294.2,680 295.6,692 297.2,704.4" fill="none" stroke="#9170b8" stroke-width="1.0" stroke-linecap="round" stroke-linejoin="round" />
<line x1="43.40" y1="644.50" x2="43.40" y2="704.40" stroke="#f0f2f7" stroke-width="0.7"/>
<line x1="43.40" y1="704.40" x2="302.70" y2="704.40" stroke="#e4e8f0" stroke-width="0.7"/>
<circle cx="27.00" cy="731.70" r="2.05" fill="#9170b8"/>
<circle cx="178.90" cy="731.70" r="2.05" fill="#6092c0"/>
<circle cx="27.00" cy="744.80" r="2.05" fill="#54b399"/>
<circle cx="934.20" cy="270.40" r="2.50" fill="none" stroke="#7d8696" stroke-width="0.8" stroke-dasharray="2.43 1.49" stroke-dashoffset="1.22"/>
<circle cx="934.20" cy="270.40" r="0.55" fill="#7d8696"/>
<circle cx="1051.30" cy="270.40" r="2.50" fill="none" stroke="#7d8696" stroke-width="0.8" stroke-dasharray="2.43 1.49" stroke-dashoffset="1.22"/>
<circle cx="1051.30" cy="270.40" r="0.55" fill="#7d8696"/>
<path d="M1059.60,268.20 L1059.60,271.90 M1057.10,270.00 L1059.60,272.10 L1062.10,270.00" fill="none" stroke="#343741" stroke-width="0.65" stroke-linecap="round" stroke-linejoin="round" />
<path d="M653.30,285.80C653.77,285.67 655.08,285.38 656.10,285.00C657.12,284.62 658.38,283.65 659.40,283.50C660.42,283.35 661.20,283.67 662.20,284.10C663.20,284.53 664.32,285.98 665.40,286.10C666.48,286.22 667.68,285.03 668.70,284.80C669.72,284.57 670.57,284.45 671.50,284.70C672.43,284.95 673.47,285.85 674.30,286.30C675.13,286.75 675.73,287.55 676.50,287.40C677.27,287.25 678.50,285.73 678.90,285.40" fill="none" stroke="#4588cc" stroke-width="1.15" stroke-linecap="round" stroke-linejoin="round" />
<path d="M777.60,294.40C777.82,293.58 778.38,290.85 778.90,289.50C779.42,288.15 779.93,287.05 780.70,286.30C781.47,285.55 782.42,285.15 783.50,285.00C784.58,284.85 786.12,285.55 787.20,285.40C788.28,285.25 789.07,284.40 790.00,284.10C790.93,283.80 791.87,283.50 792.80,283.60C793.73,283.70 794.37,284.62 795.60,284.70C796.83,284.78 798.82,284.28 800.20,284.10C801.58,283.92 802.82,283.23 803.90,283.60C804.98,283.97 805.92,284.50 806.70,286.30C807.48,288.10 808.28,293.05 808.60,294.40" fill="none" stroke="#3bb08a" stroke-width="1.15" stroke-linecap="round" stroke-linejoin="round" />
<path d="M917.30,285.20 L917.30,292.40 L924.50,292.40" fill="none" stroke="#b3bccd" stroke-width="0.6" stroke-linecap="round" stroke-linejoin="round" />
<path d="M918.80,290.80 L920.30,288.40 L921.60,289.80 L923.80,286.20" fill="none" stroke="#b3bccd" stroke-width="0.6" stroke-linecap="round" stroke-linejoin="round" />
<path d="M1040.4,392.50 L1037.7,395.00 L1040.4,397.50" fill="none" stroke="#adb6c6" stroke-width="1.0" stroke-linecap="round" stroke-linejoin="round" />
<path d="M1060.6,392.50 L1063.3,395.00 L1060.6,397.50" fill="none" stroke="#adb6c6" stroke-width="1.0" stroke-linecap="round" stroke-linejoin="round" />
<path d="M1059.90,447.20 L1059.90,450.90 M1057.40,449.00 L1059.90,451.10 L1062.40,449.00" fill="none" stroke="#343741" stroke-width="0.65" stroke-linecap="round" stroke-linejoin="round" />
<path d="M1027.4,576.00 L1024.7,578.50 L1027.4,581.00" fill="none" stroke="#adb6c6" stroke-width="1.0" stroke-linecap="round" stroke-linejoin="round" />
<path d="M1060.6,576.00 L1063.3,578.50 L1060.6,581.00" fill="none" stroke="#343741" stroke-width="0.95" stroke-linecap="round" stroke-linejoin="round" />
<circle cx="401.20" cy="616.20" r="2.50" fill="none" stroke="#7d8696" stroke-width="0.8" stroke-dasharray="2.43 1.49" stroke-dashoffset="1.22"/>
<circle cx="401.20" cy="616.20" r="0.55" fill="#7d8696"/>
<circle cx="934.20" cy="633.40" r="2.50" fill="none" stroke="#7d8696" stroke-width="0.8" stroke-dasharray="2.43 1.49" stroke-dashoffset="1.22"/>
<circle cx="934.20" cy="633.40" r="0.55" fill="#7d8696"/>
<circle cx="1051.30" cy="633.40" r="2.50" fill="none" stroke="#7d8696" stroke-width="0.8" stroke-dasharray="2.43 1.49" stroke-dashoffset="1.22"/>
<circle cx="1051.30" cy="633.40" r="0.55" fill="#7d8696"/>
<path d="M1059.60,631.20 L1059.60,634.90 M1057.10,633.00 L1059.60,635.10 L1062.10,633.00" fill="none" stroke="#343741" stroke-width="0.65" stroke-linecap="round" stroke-linejoin="round" />
<rect x="345.3" y="647.1" width="9.4" height="9.0" rx="2.4" ry="2.2" fill="#fff" stroke="#1a1c21" stroke-width="0.95"/>
<path d="M345.3,649.4 L354.7,649.4 M345.3,651.9 L354.7,651.9 M345.3,654.5 L354.7,654.5" fill="none" stroke="#1a1c21" stroke-width="0.85" stroke-linecap="round" stroke-linejoin="round" />
<path d="M653.30,647.70C653.87,647.97 655.52,648.87 656.70,649.30C657.88,649.73 659.17,649.98 660.40,650.30C661.63,650.62 662.87,651.20 664.10,651.20C665.33,651.20 666.72,650.37 667.80,650.30C668.88,650.23 669.68,650.75 670.60,650.80C671.52,650.85 672.38,650.63 673.30,650.60C674.22,650.57 675.32,651.12 676.10,650.60C676.88,650.08 677.47,648.23 678.00,647.50C678.53,646.77 678.90,646.05 679.30,646.20C679.70,646.35 680.07,647.23 680.40,648.40C680.73,649.57 681.15,652.40 681.30,653.20" fill="none" stroke="#4588cc" stroke-width="1.15" stroke-linecap="round" stroke-linejoin="round" />
<path d="M780.40,649.30C780.77,649.08 781.77,648.15 782.60,648.00C783.43,647.85 784.48,648.58 785.40,648.40C786.32,648.22 787.18,647.27 788.10,646.90C789.02,646.53 789.97,646.02 790.90,646.20C791.83,646.38 792.77,647.78 793.70,648.00C794.63,648.22 795.42,647.73 796.50,647.50C797.58,647.27 798.97,646.82 800.20,646.60C801.43,646.38 802.88,645.83 803.90,646.20C804.92,646.57 805.68,647.82 806.30,648.80C806.92,649.78 807.20,650.67 807.60,652.10C808.00,653.53 808.52,656.52 808.70,657.40" fill="none" stroke="#3bb08a" stroke-width="1.15" stroke-linecap="round" stroke-linejoin="round" />
<path d="M1040.4,755.50 L1037.7,758.00 L1040.4,760.50" fill="none" stroke="#adb6c6" stroke-width="1.0" stroke-linecap="round" stroke-linejoin="round" />
<path d="M1060.6,755.50 L1063.3,758.00 L1060.6,760.50" fill="none" stroke="#adb6c6" stroke-width="1.0" stroke-linecap="round" stroke-linejoin="round" />
<line x1="47.50" y1="820.00" x2="47.50" y2="908.00" stroke="#e9ecf3" stroke-width="0.7"/>
<line x1="122.23" y1="820.00" x2="122.23" y2="908.00" stroke="#e9ecf3" stroke-width="0.7"/>
<line x1="196.96" y1="820.00" x2="196.96" y2="908.00" stroke="#e9ecf3" stroke-width="0.7"/>
<line x1="271.69" y1="820.00" x2="271.69" y2="908.00" stroke="#e9ecf3" stroke-width="0.7"/>
<line x1="346.42" y1="820.00" x2="346.42" y2="908.00" stroke="#e9ecf3" stroke-width="0.7"/>
<line x1="421.15" y1="820.00" x2="421.15" y2="908.00" stroke="#e9ecf3" stroke-width="0.7"/>
<line x1="495.88" y1="820.00" x2="495.88" y2="908.00" stroke="#e9ecf3" stroke-width="0.7"/>
<line x1="570.61" y1="820.00" x2="570.61" y2="908.00" stroke="#e9ecf3" stroke-width="0.7"/>
<line x1="645.34" y1="820.00" x2="645.34" y2="908.00" stroke="#e9ecf3" stroke-width="0.7"/>
<line x1="720.07" y1="820.00" x2="720.07" y2="908.00" stroke="#e9ecf3" stroke-width="0.7"/>
<line x1="794.80" y1="820.00" x2="794.80" y2="908.00" stroke="#e9ecf3" stroke-width="0.7"/>
<line x1="869.53" y1="820.00" x2="869.53" y2="908.00" stroke="#e9ecf3" stroke-width="0.7"/>
<line x1="944.26" y1="820.00" x2="944.26" y2="908.00" stroke="#e9ecf3" stroke-width="0.7"/>
<line x1="1018.99" y1="820.00" x2="1018.99" y2="908.00" stroke="#e9ecf3" stroke-width="0.7"/>
<line x1="47.50" y1="829.30" x2="1053.00" y2="829.30" stroke="#e7eaf1" stroke-width="0.6" stroke-dasharray="2 2"/>
<line x1="47.50" y1="849.30" x2="1053.00" y2="849.30" stroke="#e7eaf1" stroke-width="0.6" stroke-dasharray="2 2"/>
<line x1="47.50" y1="868.80" x2="1053.00" y2="868.80" stroke="#e7eaf1" stroke-width="0.6" stroke-dasharray="2 2"/>
<line x1="47.50" y1="888.30" x2="1053.00" y2="888.30" stroke="#e7eaf1" stroke-width="0.6" stroke-dasharray="2 2"/>
<line x1="47.50" y1="908.00" x2="1053.00" y2="908.00" stroke="#e4e8f0" stroke-width="0.7"/>
<circle cx="1052.50" cy="820.00" r="2.10" fill="#54b399"/>
<circle cx="26.80" cy="935.70" r="2.05" fill="#54b399"/>
<path d="M601.80,988.20 L601.80,991.90 M599.30,990.00 L601.80,992.10 L604.30,990.00" fill="none" stroke="#343741" stroke-width="0.65" stroke-linecap="round" stroke-linejoin="round" />
<path d="M431.30,1005.80C431.88,1005.67 433.51,1005.38 434.77,1005.00C436.03,1004.62 437.60,1003.65 438.86,1003.50C440.12,1003.35 441.10,1003.67 442.34,1004.10C443.58,1004.53 444.96,1005.98 446.30,1006.10C447.65,1006.22 449.14,1005.03 450.40,1004.80C451.66,1004.57 452.71,1004.45 453.87,1004.70C455.03,1004.95 456.31,1005.85 457.34,1006.30C458.37,1006.75 459.12,1007.55 460.07,1007.40C461.02,1007.25 462.55,1005.73 463.04,1005.40" fill="none" stroke="#4588cc" stroke-width="1.15" stroke-linecap="round" stroke-linejoin="round" />
<path d="M443.30,1027.00 L443.30,1034.20 L450.50,1034.20" fill="none" stroke="#b3bccd" stroke-width="0.6" stroke-linecap="round" stroke-linejoin="round" />
<path d="M444.80,1032.60 L446.30,1030.20 L447.60,1031.60 L449.80,1028.00" fill="none" stroke="#b3bccd" stroke-width="0.6" stroke-linecap="round" stroke-linejoin="round" />
<path d="M574.40,1014.40C574.62,1013.58 575.21,1010.85 575.74,1009.50C576.27,1008.15 576.80,1007.05 577.59,1006.30C578.38,1005.55 579.36,1005.15 580.48,1005.00C581.59,1004.85 583.17,1005.55 584.29,1005.40C585.40,1005.25 586.21,1004.40 587.17,1004.10C588.13,1003.80 589.09,1003.50 590.06,1003.60C591.02,1003.70 591.67,1004.62 592.94,1004.70C594.21,1004.78 596.25,1004.28 597.68,1004.10C599.10,1003.92 600.37,1003.23 601.49,1003.60C602.60,1003.97 603.57,1004.50 604.37,1006.30C605.18,1008.10 606.00,1013.05 606.33,1014.40" fill="none" stroke="#3bb08a" stroke-width="1.15" stroke-linecap="round" stroke-linejoin="round" />
<path d="M586.30,1027.00 L586.30,1034.20 L593.50,1034.20" fill="none" stroke="#b3bccd" stroke-width="0.6" stroke-linecap="round" stroke-linejoin="round" />
<path d="M587.80,1032.60 L589.30,1030.20 L590.60,1031.60 L592.80,1028.00" fill="none" stroke="#b3bccd" stroke-width="0.6" stroke-linecap="round" stroke-linejoin="round" />
<path d="M725.30,1027.00 L725.30,1034.20 L732.50,1034.20" fill="none" stroke="#b3bccd" stroke-width="0.6" stroke-linecap="round" stroke-linejoin="round" />
<path d="M726.80,1032.60 L728.30,1030.20 L729.60,1031.60 L731.80,1028.00" fill="none" stroke="#b3bccd" stroke-width="0.6" stroke-linecap="round" stroke-linejoin="round" />
<path d="M858.1,1005.6 L858.5,1004 L871.3,1004 L873.5,1007.3 L875.7,1004.4 L877.8,1004 L879.3,1006.8 L881,1004 L883.1,1003.7 L884.1,1005.6 L884.4,1014.2" fill="none" stroke="#7d55b8" stroke-width="0.9" stroke-linecap="round" stroke-linejoin="round" />
<path d="M853.2,1026.8 L854,1034.5 L854.7,1036.6 L855.7,1032 L856.4,1025.4" fill="none" stroke="#7d55b8" stroke-width="0.9" stroke-linecap="round" stroke-linejoin="round" />
<path d="M1055.50,1007.50 L1058.00,1010.50 L1060.50,1007.50" fill="none" stroke="#0069b8" stroke-width="1.0" stroke-linecap="round" stroke-linejoin="round" />
<path d="M1055.50,1029.50 L1058.00,1032.50 L1060.50,1029.50" fill="none" stroke="#0069b8" stroke-width="1.0" stroke-linecap="round" stroke-linejoin="round" />
<path d="M1040.4,1112.50 L1037.7,1115.00 L1040.4,1117.50" fill="none" stroke="#adb6c6" stroke-width="1.0" stroke-linecap="round" stroke-linejoin="round" />
<path d="M1060.6,1112.50 L1063.3,1115.00 L1060.6,1117.50" fill="none" stroke="#adb6c6" stroke-width="1.0" stroke-linecap="round" stroke-linejoin="round" />
</svg>
</body></html>
